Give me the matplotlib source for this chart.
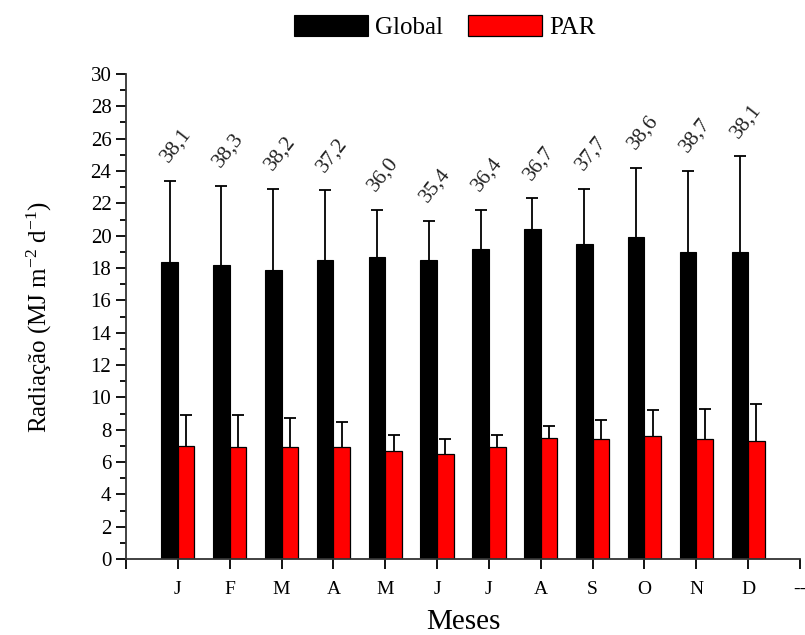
import numpy as np
import matplotlib
matplotlib.use('Agg')
import matplotlib.pyplot as plt
from matplotlib.ticker import MultipleLocator

# dados
meses = ['J', 'F', 'M', 'A', 'M', 'J', 'J', 'A', 'S', 'O', 'N', 'D']
glob = [18.4, 18.2, 17.9, 18.5, 18.7, 18.5, 19.2, 20.4, 19.5, 19.9, 19.0, 19.0]
glob_err = [5.0, 4.9, 5.0, 4.3, 2.9, 2.4, 2.4, 1.9, 3.4, 4.3, 5.0, 5.9]
par = [7.0, 6.9, 6.9, 6.9, 6.7, 6.5, 6.9, 7.5, 7.4, 7.6, 7.4, 7.3]
par_err = [1.9, 2.0, 1.8, 1.6, 1.0, 0.9, 0.8, 0.7, 1.2, 1.6, 1.9, 2.3]
razao = ['38,1', '38,3', '38,2', '37,2', '36,0', '35,4',
         '36,4', '36,7', '37,7', '38,6', '38,7', '38,1']

plt.rcParams['font.family'] = ['Liberation Serif', 'DejaVu Serif']
plt.rcParams['mathtext.fontset'] = 'custom'
plt.rcParams['mathtext.rm'] = 'Liberation Serif'
plt.rcParams['mathtext.default'] = 'regular'

fig = plt.figure(figsize=(8.05, 6.35), dpi=100)
ax = fig.add_axes([126/805, 1-559/635, (800-126)/805, (559-74)/635])

x = np.arange(1, len(meses)+1)
w = 0.32
ax.bar(x, glob, width=-w, align='edge', color='black', edgecolor='black',
       linewidth=0.8, label='Global')
ax.bar(x, par, width=w, align='edge', color='#ff0000', edgecolor='black',
       linewidth=0.9, label='PAR')

# barras de erro so para cima
for xc, yv, ev in [(x-w/2, glob, glob_err), (x+w/2, par, par_err)]:
    eb = ax.errorbar(xc, yv, yerr=[np.zeros(len(yv)), ev], fmt='none',
                     ecolor='black', elinewidth=1.3, capsize=4, capthick=1.3)
    eb[1][0].set_visible(False)

for i in range(len(meses)):
    topo = glob[i] + glob_err[i]
    ax.text(x[i]-0.03, topo+2.2, razao[i], rotation=52, ha='center',
            va='center', fontsize=15.5, color='#222222')

ax.set_xlim(0, 13)
ax.set_ylim(0, 30)
ax.set_xticks(np.arange(0, 14))
ax.set_xticklabels([''] + meses + ['--'], fontsize=14)
ax.yaxis.set_major_locator(MultipleLocator(2))
ax.yaxis.set_minor_locator(MultipleLocator(1))
ax.tick_params(axis='y', which='major', length=7, width=1.3, labelsize=15)
ax.tick_params(axis='y', which='minor', length=4, width=1.3)
ax.tick_params(axis='x', which='major', length=7, width=1.3, pad=9)
for s in ['top', 'right']:
    ax.spines[s].set_visible(False)
for s in ['left', 'bottom']:
    ax.spines[s].set_linewidth(1.3)
    ax.spines[s].set_color('#333333')

ax.set_xlabel('Meses', fontsize=21, labelpad=8)
ax.set_ylabel('Radiação (MJ m$^{-2}$ d$^{-1}$)', fontsize=18, labelpad=26)

fig.legend(loc='center', bbox_to_anchor=(445/805, 1-27/635), ncol=2,
           frameon=False, fontsize=18, handlelength=2.95, handleheight=0.9,
           handletextpad=0.3, columnspacing=1.0)

fig.savefig('out.png', dpi=100)
